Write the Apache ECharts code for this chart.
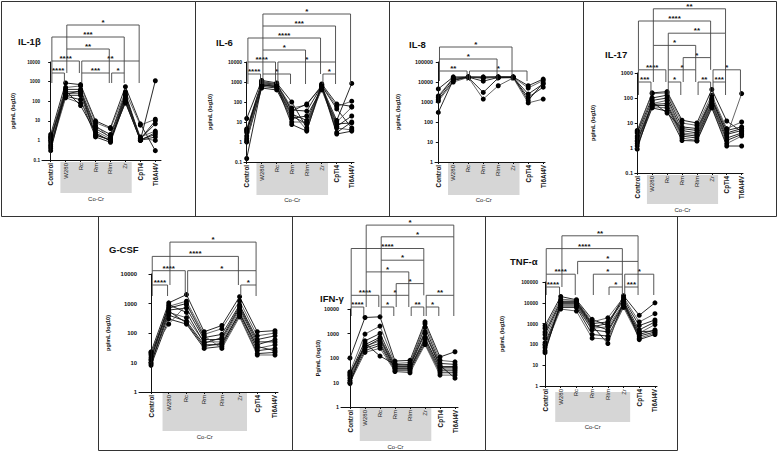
<!DOCTYPE html>
<html><head><meta charset="utf-8">
<script src="https://cdn.jsdelivr.net/npm/echarts@6/dist/echarts.min.js"></script>
<style>html,body{margin:0;padding:0;background:#fff}#c{width:777px;height:451px}</style>
</head><body><div id="c"></div><script>
// ---------------- DATA ----------------
const categories = ['Control','W280','Rc','Rm','RIm','Zr','CpTi4','Ti6Al4V'];
const boldCats = ['Control','CpTi4','Ti6Al4V'];
const groupLabel = 'Co-Cr';
const groupFirst = 'W280', groupLast = 'Zr';

const titles = ['IL-1β','IL-6','IL-8','IL-17','G-CSF','IFN-γ','TNF-α'];
const yNames = ['pg/mL (log10)','pg/mL (log10)','pg/mL (log10)','pg/mL (log10)','pg/mL (log10)','Pg/mL (log10)','pg/mL (log10)'];

const ticksIL1B = [0.1, 1, 10, 100, 1000, 10000];
const ticksIL6  = [0.1, 1, 10, 100, 1000, 10000];
const ticksIL8  = [1, 10, 100, 1000, 10000, 100000];
const ticksIL17 = [0.1, 1, 10, 100, 1000];
const ticksGCSF = [1, 10, 100, 1000, 10000];
const ticksIFNG = [1, 10, 100, 1000, 10000];
const ticksTNFA = [1, 10, 100, 1000, 10000, 100000];

// one row per donor: Control, W280, Rc, Rm, RIm, Zr, CpTi4, Ti6Al4V
const IL1B = [
 [2.0, 850, 700, 10, 4.5, 550, 7, 0.3],
 [1.6, 500, 600, 8, 4, 300, 6, 12],
 [1.2, 400, 400, 5, 2, 250, 1.2, 10],
 [1.0, 300, 300, 4, 1.5, 200, 1.0, 1100],
 [0.8, 250, 250, 3, 1.2, 150, 1.5, 3],
 [0.6, 200, 200, 2, 1.0, 120, 1.1, 2],
 [0.5, 180, 120, 1.5, 0.8, 100, 1.0, 1.5],
 [0.4, 150, 80, 6, 1.3, 80, 1.3, 1.0],
 [0.3, 350, 60, 2.5, 0.9, 180, 1.2, 7],
 [1.4, 220, 350, 1.8, 1.1, 90, 1.0, 2.5]
];
const IL6 = [
 [15, 1200, 900, 100, 5, 800, 80, 60],
 [4.5, 1000, 850, 50, 70, 700, 60, 110],
 [4, 900, 800, 40, 35, 650, 45, 5],
 [3.5, 800, 700, 35, 80, 600, 12, 850],
 [2, 700, 600, 30, 4, 550, 10, 55],
 [1.5, 600, 500, 20, 8, 500, 8, 9],
 [1.2, 500, 400, 15, 20, 450, 6, 20],
 [1, 1100, 750, 10, 10, 400, 5, 4],
 [0.15, 650, 650, 7.5, 3.5, 750, 3, 10],
 [3, 750, 550, 25, 12, 620, 2.5, 3.5]
];
const IL8 = [
 [4500, 18000, 18000, 18000, 18000, 18000, 6500, 14000],
 [2000, 16000, 18000, 15000, 17500, 17500, 5000, 12000],
 [1700, 15000, 17500, 11000, 17000, 17000, 2500, 8000],
 [1300, 12000, 17000, 3000, 16000, 16500, 1700, 5500],
 [1100, 10000, 17000, 1400, 6500, 16000, 900, 1400],
 [300, 13000, 17500, 17000, 18000, 17800, 1200, 9000]
];
const IL17 = [
 [5, 160, 180, 13, 10, 220, 12, 4.5],
 [4.5, 150, 160, 10, 8, 130, 6, 11],
 [4, 100, 130, 7, 6, 100, 5, 7],
 [3, 80, 100, 5, 4, 80, 4, 6],
 [2.5, 60, 80, 4, 3.5, 70, 3, 150],
 [2, 55, 60, 3.5, 3, 60, 2.5, 4],
 [1.8, 50, 50, 3, 2.5, 50, 2, 3.5],
 [1.5, 45, 40, 2.5, 2, 45, 1.5, 3],
 [1.2, 40, 30, 2, 1.9, 40, 1.2, 1.2],
 [0.9, 70, 25, 6, 5, 90, 3.5, 5]
];
const GCSF = [
 [23, 1050, 2000, 110, 180, 1700, 110, 120],
 [20, 800, 1200, 90, 140, 1200, 80, 100],
 [18, 700, 1000, 70, 90, 900, 60, 80],
 [15, 600, 700, 60, 60, 700, 40, 60],
 [12, 500, 330, 50, 50, 600, 30, 40],
 [10, 400, 250, 40, 40, 500, 25, 30],
 [8, 300, 200, 30, 35, 400, 20, 22],
 [22, 200, 900, 80, 30, 350, 18, 18],
 [13, 900, 500, 45, 70, 800, 50, 50],
 [9, 550, 220, 35, 45, 450, 35, 25]
];
const IFNG = [
 [100, 4500, 4800, 75, 80, 3000, 110, 180],
 [27, 950, 2000, 60, 65, 2500, 80, 70],
 [22, 500, 1000, 50, 55, 1800, 60, 55],
 [20, 350, 700, 45, 45, 1000, 45, 45],
 [18, 300, 500, 40, 40, 700, 35, 35],
 [15, 250, 400, 35, 35, 500, 30, 30],
 [12, 200, 330, 30, 30, 400, 25, 25],
 [10, 170, 250, 28, 25, 350, 20, 20],
 [9, 400, 120, 55, 50, 1200, 50, 15],
 [25, 280, 600, 38, 38, 600, 40, 40]
];
const TNFA = [
 [800, 20000, 14000, 1600, 800, 22000, 2500, 10000],
 [600, 15000, 13000, 1200, 1900, 18000, 1200, 3000],
 [400, 12000, 12000, 1000, 1200, 15000, 800, 1500],
 [300, 10000, 10000, 800, 110, 12000, 500, 1200],
 [200, 8000, 8000, 600, 700, 10000, 350, 900],
 [120, 7000, 7000, 500, 400, 8000, 300, 500],
 [90, 6000, 6000, 300, 250, 7000, 250, 400],
 [70, 5000, 4000, 200, 180, 6000, 200, 350],
 [50, 9000, 9000, 700, 1000, 13000, 170, 300],
 [40, 11000, 11000, 900, 500, 9000, 400, 450]
];

// significance brackets: [from, to, label, level]
const BR_IL1B = [
 ['Control','W280','****',0], ['Rc','RIm','***',0], ['RIm','Zr','*',0],
 ['Control','Rc','****',1], ['Rc','CpTi4','**',1],
 ['W280','RIm','**',2], ['Control','Zr','***',3], ['W280','CpTi4','*',4]
];
const BR_IL6 = [
 ['Control','W280','****',0], ['W280','Rm','*',0], ['Zr','CpTi4','*',0],
 ['Control','Rc','****',1], ['Rc','CpTi4','*',1],
 ['W280','RIm','*',2], ['Control','Zr','****',3], ['W280','CpTi4','***',4], ['W280','Ti6Al4V','*',5]
];
const BR_IL8 = [
 ['Control','Rc','**',0], ['Rc','CpTi4','*',0], ['Control','RIm','*',1], ['Control','Zr','*',2]
];
const BR_IL17 = [
 ['Control','W280','***',0], ['Rc','Rm','*',0], ['RIm','Zr','**',0], ['Zr','CpTi4','***',0],
 ['Control','Rc','****',1], ['Rc','RIm','*',1], ['Zr','Ti6Al4V','*',1],
 ['Rm','Zr','*',2], ['W280','RIm','*',3], ['Rc','CpTi4','**',4], ['Control','Zr','****',5], ['W280','CpTi4','**',6]
];
const BR_GCSF = [
 ['Control','W280','****',0], ['Zr','CpTi4','*',0], ['Control','Rc','****',1], ['Rc','CpTi4','*',1],
 ['Control','Zr','****',2], ['W280','CpTi4','*',3]
];
const BR_IFNG = [
 ['Control','W280','****',0], ['Rc','Rm','*',0], ['RIm','Zr','**',0], ['Zr','CpTi4','*',0],
 ['Control','Rc','****',1], ['Rc','RIm','*',1], ['Zr','Ti6Al4V','**',1],
 ['Rm','Zr','*',2], ['W280','RIm','*',3], ['Rc','Zr','*',4], ['Control','Zr','****',5],
 ['Rc','Ti6Al4V','*',6], ['W280','Ti6Al4V','*',7]
];
const BR_TNFA = [
 ['Control','W280','****',0], ['RIm','Zr','*',0], ['Zr','CpTi4','***',0],
 ['Control','Rc','****',1], ['Rm','Zr','*',1], ['Zr','Ti6Al4V','*',1],
 ['Rc','CpTi4','*',2], ['Control','Zr','****',3], ['W280','CpTi4','**',4]
];

// ---------------- LAYOUT (pixels) ----------------
const LAYOUT = [
 {box:[1,1,194,215],   grid:[42,62,119,98],   xr:[-0.58,7.38], title:[13,37],   yname:13,  grey:[162,193], coCr:199, br:[73,12,10],   tf:4.6},
 {box:[195,1,194,215], grid:[244,62,110,100], xr:[-0.18,7.15], title:[211,38],  yname:210, grey:[163,195], coCr:200, br:[74,12,10],   tf:5},
 {box:[389,1,194,215], grid:[435,62,110,100], xr:[-0.22,7.12], title:[404,40],  yname:398, grey:[163,195], coCr:200, br:[71,12,10],   tf:5.4},
 {box:[583,1,193,215], grid:[635,73,108,100], xr:[-0.15,7.09], title:[600,50],  yname:593, grey:[175,204], coCr:210, br:[82,12.2,13], tf:5.5},
 {box:[98,216,194,234],grid:[139,274,139,118],xr:[-0.68,7.17], title:[104,245], yname:108, grey:[393,431], coCr:437, br:[285,14.3,11], tf:5.9},
 {box:[292,216,193,234],grid:[341,309,117,98],xr:[-0.6,7.2],   title:[315,294], yname:318, grey:[408,441], coCr:447, br:[307,11.7,9], tf:5.4},
 {box:[485,216,192,234],grid:[540,282,117,104],xr:[-0.32,7.13],title:[505,257], yname:502, grey:[392,422], coCr:427, br:[287,12.8,8], tf:5}
];

const PANELS = [
 {data:IL1B, ticks:ticksIL1B, br:BR_IL1B},
 {data:IL6,  ticks:ticksIL6,  br:BR_IL6},
 {data:IL8,  ticks:ticksIL8,  br:BR_IL8},
 {data:IL17, ticks:ticksIL17, br:BR_IL17},
 {data:GCSF, ticks:ticksGCSF, br:BR_GCSF},
 {data:IFNG, ticks:ticksIFNG, br:BR_IFNG},
 {data:TNFA, ticks:ticksTNFA, br:BR_TNFA}
];

const FONT = 'Liberation Sans, Arial, sans-serif';
const catIdx = categories.map((c,i)=>i);

const option = {animation:false, backgroundColor:'#fff', title:[], grid:[], xAxis:[], yAxis:[], series:[], graphic:[]};

PANELS.forEach((P, p) => {
  const L = LAYOUT[p];
  const yMin = P.ticks[0], yMax = P.ticks[P.ticks.length-1];
  option.title.push({text: titles[p], left: L.title[0], top: L.title[1]-6,
    textStyle:{fontFamily:FONT, fontSize:9.5, fontWeight:'bold', color:'#111'}});
  option.grid.push({left:L.grid[0], top:L.grid[1], width:L.grid[2], height:L.grid[3], containLabel:false});
  option.xAxis.push({type:'value', gridIndex:p, min:L.xr[0], max:L.xr[1], z:6,
    splitLine:{show:false},
    axisLine:{lineStyle:{color:'#111', width:1}},
    axisTick:{show:true, length:2, customValues:catIdx, lineStyle:{color:'#111'}},
    axisLabel:{customValues:catIdx, rotate:90, margin:3, fontFamily:FONT, fontSize:6, color:'#111',
      formatter: v => { const c = categories[Math.round(v)]; return boldCats.includes(c) ? '{b|'+c+'}' : '{n|'+c+'}'; },
      rich:{b:{fontWeight:'bold', fontSize:6.3, fontFamily:FONT, color:'#111'}, n:{fontWeight:'normal', fontSize:6, fontFamily:FONT, color:'#222'}}}
  });
  option.yAxis.push({type:'log', logBase:10, gridIndex:p, min:yMin, max:yMax, z:6,
    splitLine:{show:false}, minorTick:{show:false},
    axisLine:{show:true, lineStyle:{color:'#111', width:1}},
    axisTick:{show:true, length:2.5, lineStyle:{color:'#111'}},
    axisLabel:{fontFamily:FONT, fontSize:L.tf, fontWeight:'bold', color:'#111', margin:2,
      formatter: v => { const t = P.ticks.find(t => Math.abs(Math.log10(t)-Math.log10(v)) < 1e-6); return t===undefined ? '' : String(t); }}
  });
  // y-axis title
  option.graphic.push({type:'text', x:L.yname, y:L.grid[1]+L.grid[3]/2, rotation:Math.PI/2, silent:true, z:50,
    style:{text:yNames[p], fill:'#111', font:'bold 5.5px '+FONT, align:'center', verticalAlign:'middle'}});
  // grey group box + label
  option.series.push({type:'custom', xAxisIndex:p, yAxisIndex:p, clip:false, silent:true, z:-1,
    data:[[0, yMin]],
    renderItem:(params, api) => {
      const xa = api.coord([categories.indexOf(groupFirst)-0.35, yMin])[0];
      const xb = api.coord([categories.indexOf(groupLast)+0.42, yMin])[0];
      return {type:'group', children:[
        {type:'rect', shape:{x:xa, y:L.grey[0], width:xb-xa, height:L.grey[1]-L.grey[0]}, style:{fill:'#d6d6d6'}},
        {type:'text', x:(xa+xb)/2, y:L.coCr, style:{text:groupLabel, fill:'#222', font:'6px '+FONT, align:'center', verticalAlign:'middle'}}
      ]};
    }
  });
  // donor lines
  P.data.forEach((row, d) => {
    option.series.push({type:'line', xAxisIndex:p, yAxisIndex:p, z:3,
      data: row.map((v,i)=>[i,v]),
      symbol:'circle', symbolSize:5, showSymbol:true,
      lineStyle:{color: d%3===1 ? '#555' : '#111', width:0.9},
      itemStyle:{color:'#000'}, emphasis:{disabled:true}
    });
  });
  // brackets
  const brs = P.br;
  const yAt = lev => L.br[0] - lev*L.br[1];
  option.series.push({type:'custom', xAxisIndex:p, yAxisIndex:p, clip:false, silent:true, z:5,
    data: brs.map(b => [categories.indexOf(b[0]), yMin]),
    renderItem:(params, api) => {
      const b = brs[params.dataIndex];
      const x1 = api.coord([categories.indexOf(b[0]), yMin])[0] + 1.2;
      const x2 = api.coord([categories.indexOf(b[1]), yMin])[0] - 1.2;
      const y = yAt(b[3]);
      const legBottom = cat => {
        let best = -1;
        brs.forEach(o => { if (o !== b && o[3] < b[3] && (o[0] === cat || o[1] === cat)) best = Math.max(best, o[3]); });
        return best >= 0 ? yAt(best) : L.br[0] + L.br[2];
      };
      return {type:'group', children:[
        {type:'polyline', shape:{points:[[x1, legBottom(b[0])],[x1,y],[x2,y],[x2,legBottom(b[1])]]},
          style:{stroke:'#444', lineWidth:0.9, fill:'none'}},
        {type:'text', x:(x1+x2)/2, y:y-2.5, style:{text:b[2], fill:'#111', font:'bold 8px '+FONT, align:'center', verticalAlign:'middle'}}
      ]};
    }
  });
  // panel border
  option.graphic.push({type:'rect', shape:{x:L.box[0]+0.5, y:L.box[1]+0.5, width:L.box[2], height:L.box[3]},
    style:{fill:'none', stroke:'#333', lineWidth:1}, silent:true, z:100});
});

const chart = echarts.init(document.getElementById('c'), null, {renderer:'svg', width:777, height:451});
chart.setOption(option);
</script></body></html>
